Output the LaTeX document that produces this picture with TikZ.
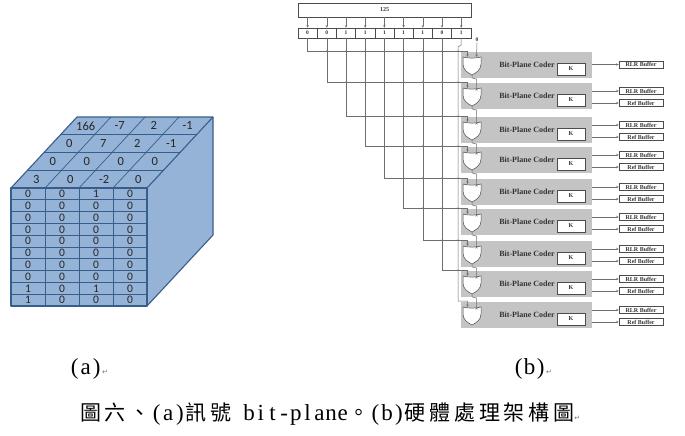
\documentclass[tikz,border=0pt]{standalone}
\usepackage{fontspec}
\setmainfont{Liberation Serif}
\newfontfamily\cjk[LetterSpace=18]{Noto Sans CJK TC}
\newfontfamily\lser{Liberation Serif}
\newfontfamily\carl{Carlito}
\newfontfamily\dvs{DejaVu Sans}
\usetikzlibrary{arrows.meta}
\definecolor{cubefill}{HTML}{95B3D7}
\definecolor{cubeline}{HTML}{385D8A}
\definecolor{wire}{HTML}{6E6E6E}
\definecolor{coderbg}{HTML}{C4C4C4}
\newcommand{\pmark}{{\dvs\fontsize{7}{7}\selectfont\color{black!55}↵}}
\newcommand{\hc}[2][11.7pt]{\makebox[#1]{#2}}
\begin{document}
\begin{tikzpicture}[x=1pt,y=-1pt,
  cubeedge/.style={draw=cubeline, line width=1.1pt, line join=round},
  cubegrid/.style={draw=cubeline, line width=0.7pt},
  topnum/.style={font=\carl\fontsize{12.5}{12.5}\selectfont, inner sep=0, text=black!85},
  frontnum/.style={font=\carl\fontsize{11.5}{11.5}\selectfont, inner sep=0, text=black!85},
  wireln/.style={draw=wire, line width=0.5pt},
  arr/.style={wireln, -{Stealth[length=2.6pt,width=2.4pt]}},
  xdot/.style={circle, fill=wire, inner sep=0, minimum size=1.4pt},
  regbox/.style={draw=black!70, line width=0.5pt, fill=white, minimum width=173pt, minimum height=14pt, inner sep=0, font=\bfseries\fontsize{6}{6}\selectfont, text=black!80},
  bitcell/.style={draw=black!70, line width=0.5pt, fill=white, minimum width=19.2pt, minimum height=10pt, inner sep=0, font=\bfseries\fontsize{5.5}{5.5}\selectfont, text=black!80},
  coderbox/.style={fill=coderbg, minimum width=131pt, minimum height=26pt, inner sep=0},
  codertext/.style={font=\bfseries\fontsize{8}{8}\selectfont, inner sep=0, text=black!80},
  kbox/.style={draw=black!70, line width=0.5pt, fill=white, minimum width=28pt, minimum height=12pt, inner sep=0, font=\bfseries\fontsize{6}{6}\selectfont, text=black!80},
  bufbox/.style={draw=black!70, line width=0.5pt, fill=white, minimum width=44pt, minimum height=7pt, inner sep=0, font=\bfseries\fontsize{6}{6}\selectfont, text=black!80},
  gatebody/.style={draw=black!70, line width=0.5pt, fill=white},
  tinylbl/.style={font=\bfseries\fontsize{5.5}{5.5}\selectfont, inner sep=0.5pt, text=black!80}
]
\useasboundingbox (0,0) rectangle (685,436);

% ---------------- cube (a) ----------------
\fill[cubefill] (11,188) -- (147,188) -- (213,117) -- (77,117) -- cycle;
\fill[cubefill] (147,188) -- (213,117) -- (213,235) -- (147,306) -- cycle;
\fill[cubefill] (11,188) rectangle (147,306);
% top grid
\foreach \k in {1,2,3} {
  \draw[cubegrid] (11+16.5*\k,188-17.75*\k) -- (147+16.5*\k,188-17.75*\k);
  \draw[cubegrid] (11+34*\k,188) -- (77+34*\k,117);
}
% front grid
\foreach \k in {1,2,3} \draw[cubegrid] (11+34*\k,188) -- (11+34*\k,306);
\foreach \r in {1,...,9} \draw[cubegrid] (11,188+11.8*\r) -- (147,188+11.8*\r);
% outlines
\draw[cubeedge] (11,188) -- (77,117) -- (213,117) -- (147,188);
\draw[cubeedge] (213,117) -- (213,235) -- (147,306);
\draw[cubeedge] (11,188) rectangle (147,306);
% top numbers
\foreach \vals [count=\r from 0] in {{3,0,-2,0},{0,0,0,0},{0,7,2,-1},{166,-7,2,-1}} {
  \foreach \v [count=\j from 0] in \vals {
    \node[topnum] (t\r\j) at (28+34*\j+66*\r/4+8.25, 188-71*\r/4-8.875) {\v};
  }
}
% front numbers
\foreach \vals [count=\r from 0] in {{0,0,1,0},{0,0,0,0},{0,0,0,0},{0,0,0,0},{0,0,0,0},{0,0,0,0},{0,0,0,0},{0,0,0,0},{1,0,1,0},{1,0,0,0}} {
  \foreach \v [count=\j from 0] in \vals {
    \node[frontnum] (f\r\j) at (28+34*\j, 194+11.8*\r) {\v};
  }
}

% ---------------- hardware (b) ----------------
\node[regbox] (reg) at (384.5,10) {125};
\foreach \b [count=\i from 0] in {0,0,1,1,1,1,1,0,1} {
  \node[bitcell] (c\i) at (307.6+19.2*\i,33) {\b};
  \draw[arr] (c\i.north |- reg.south) -- (c\i.north);
}
% coder blocks
\foreach \k/\t in {0/52,1/83,2/117,3/147,4/179,5/209,6/241,7/271,8/302} {
  \node[coderbox] (box\k) at (526.5,\t+13) {};
  \draw[gatebody] (463,\t+5) .. controls (468,\t+6.5) and (476,\t+6.5) .. (481,\t+5)
     -- (481,\t+12) .. controls (481,\t+18) and (476,\t+21) .. (472,\t+23)
     .. controls (468,\t+21) and (463,\t+18) .. (463,\t+12) -- cycle;
  \coordinate (gl\k) at (467.5,\t+5);
  \coordinate (gr\k) at (476.5,\t+5);
  \coordinate (go\k) at (472,\t+23);
  \node[codertext] (bpc\k) at (527,\t+12.5) {Bit-Plane Coder};
  \node[kbox] (K\k) at (571,\t+17) {K};
}
% outputs
\node[bufbox] (rlr0) at (641,64.5) {RLR Buffer};
\draw[arr] (box0.east |- rlr0) -- (rlr0.west);
\foreach \k/\t in {1/83,2/117,3/147,4/179,5/209,6/241,7/271,8/302} {
  \node[bufbox] (rlr\k) at (641,\t+8) {RLR Buffer};
  \node[bufbox] (ref\k) at (641,\t+20) {Ref Buffer};
  \draw[arr] (box\k.east |- rlr\k) -- (rlr\k.west);
  \draw[arr] (box\k.east |- ref\k) -- (ref\k.west);
}
% bit wires to left gate inputs
\foreach \k/\t in {0/52,1/83,2/117,3/147,4/179,5/209,6/241,7/271} {
  \draw[arr] (c\k.south) |- (467.5,\t-1) -- (gl\k);
}
\coordinate (jog) at (458,47);
\draw[arr] (c8.south) -- (461.2,45) -- (jog) |- (467.5,301) -- (gl8);
% crossing dots
\foreach \k/\t in {0/52,1/83,2/117,3/147,4/179,5/209,6/241,7/271} {
  \pgfmathtruncatemacro\s{\k+1}
  \foreach \j in {\s,...,8} {
    \pgfmathsetmacro\xj{\j<8 ? 307.6+19.2*\j : 458}
    \node[xdot] (d\k\j) at (\xj,\t-1) {};
  }
}
% gate chain
\node[tinylbl] (zero) at (477,40) {0};
\draw[arr] (zero.south) -- (gr0);
\foreach \k/\n in {0/1,1/2,2/3,3/4,4/5,5/6,6/7,7/8} {
  \draw[arr] (go\k) -- ++(0,3) -- ++(4.5,1) |- (gr\n);
}

% ---------------- labels ----------------
\node[anchor=base west, inner sep=0] (la) at (69,374) {\lser\fontsize{23}{23}\selectfont \hc[11pt]{(}\hc[11pt]{a}\hc[11pt]{)}\pmark};
\node[anchor=base west, inner sep=0] (lb) at (513,374) {\lser\fontsize{23}{23}\selectfont \hc[11pt]{(}\hc[11pt]{b}\hc[11pt]{)}\pmark};
\node[anchor=base west, inner sep=0] (cap) at (80,420) {\cjk\fontsize{21}{21}\selectfont 圖六、{\lser\fontsize{23}{23}\selectfont\hc{(}\hc{a}\hc{)}}訊號{\lser\fontsize{23}{23}\selectfont\hc{ }\hc{b}\hc{i}\hc{t}\hc{-}\hc{p}\hc{l}\hc{a}\hc{n}\hc{e}}。{\lser\fontsize{23}{23}\selectfont\hc{(}\hc{b}\hc{)}}硬體處理架構圖\pmark};
\end{tikzpicture}
\end{document}
